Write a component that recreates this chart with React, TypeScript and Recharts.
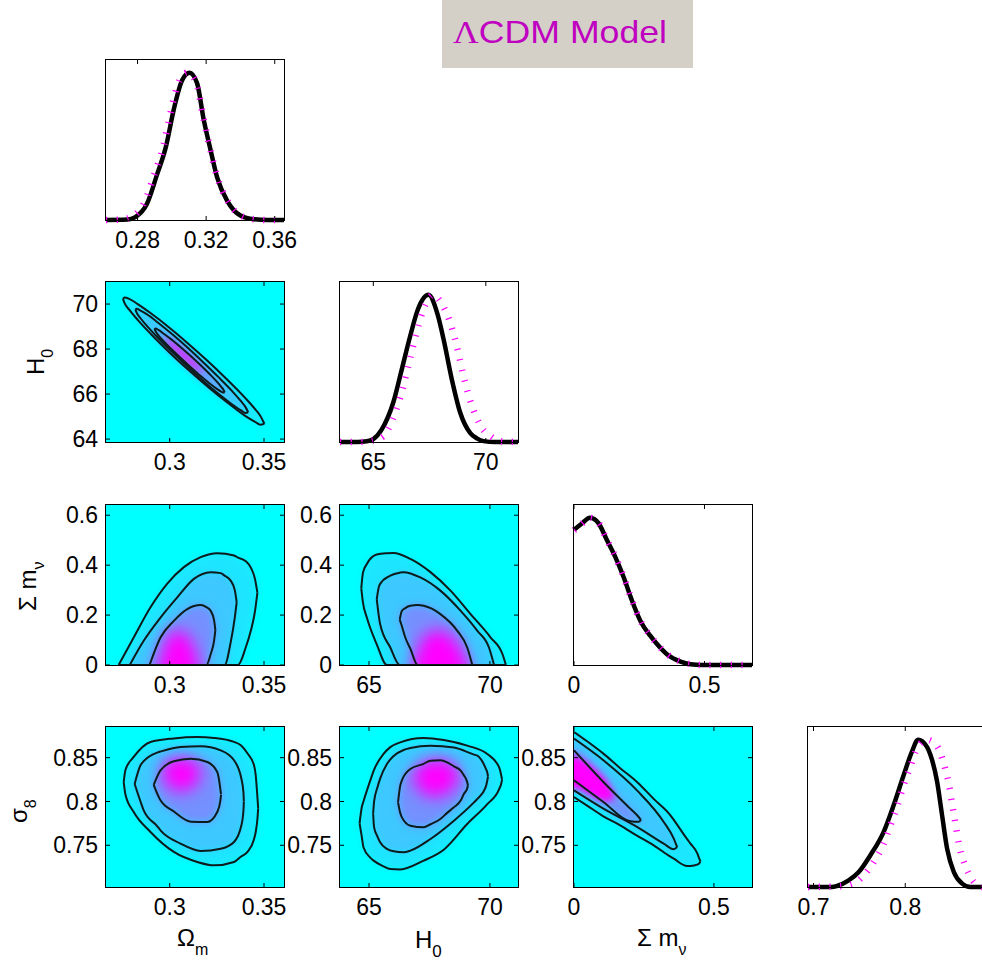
import React from 'react';
import { ComposedChart, Area, Line, XAxis, YAxis, ReferenceArea } from 'recharts';

// ---------- tick values ----------
const omTicks1D = [0.28, 0.32, 0.36];
const omTicks2D = [0.3, 0.35];
const h0Ticks1D = [65, 70];
const h0TicksX2D = [65, 70];
const h0TicksY2D = [64, 66, 68, 70];
const mnuTicksX = [0, 0.5];
const mnuTicksY = [0, 0.2, 0.4, 0.6];
const s8TicksY = [0.75, 0.8, 0.85];
const s8Ticks1D = [0.7, 0.8];
const cbTicks = [0, 0.2, 0.4, 0.6, 0.8];

// ---------- 1D marginal curves [x, density] ----------
const omBlack = [[0.2616,0],[0.274,0.003],[0.2787,0.02],[0.2855,0.11],[0.2914,0.31],[0.2966,0.5],[0.3011,0.75],[0.306,0.95],[0.3103,1.0],[0.3147,0.93],[0.3186,0.68],[0.3221,0.5],[0.3264,0.29],[0.3323,0.13],[0.34,0.03],[0.3478,0.005],[0.356,0],[0.3654,0]];
const omMag = [[0.2616,0],[0.27,0.003],[0.277,0.025],[0.284,0.12],[0.2898,0.31],[0.295,0.5],[0.2995,0.74],[0.3045,0.95],[0.309,1.0],[0.314,0.94],[0.3183,0.7],[0.322,0.5],[0.3265,0.29],[0.3325,0.13],[0.3402,0.03],[0.348,0.005],[0.356,0],[0.3654,0]];
const h0Black = [[63.52,0],[64.3,0],[64.71,0.005],[65.0,0.02],[65.37,0.084],[65.89,0.27],[66.26,0.49],[66.64,0.72],[66.98,0.9],[67.45,1.0],[67.85,0.87],[68.12,0.7],[68.49,0.425],[68.86,0.2],[69.31,0.06],[69.6,0.025],[69.9,0.006],[70.4,0],[71.43,0]];
const h0Mag = [[63.52,0],[64.5,0],[65.0,0.012],[65.45,0.04],[65.82,0.14],[66.19,0.3],[66.56,0.52],[66.93,0.75],[67.3,0.93],[67.67,1.0],[68.0,0.95],[68.42,0.81],[68.79,0.6],[69.04,0.43],[69.31,0.28],[69.56,0.176],[69.83,0.095],[70.2,0.04],[70.64,0.005],[71.43,0]];
const mnuBlack = [[0,0.918],[0.029,0.96],[0.0615,1.0],[0.094,0.963],[0.126,0.849],[0.158,0.735],[0.19,0.598],[0.222,0.438],[0.254,0.301],[0.292,0.199],[0.318,0.142],[0.356,0.073],[0.408,0.023],[0.446,0.005],[0.49,0],[0.682,0]];
const mnuMag = [[0,0.915],[0.029,0.958],[0.06,1.0],[0.094,0.965],[0.126,0.85],[0.158,0.737],[0.19,0.6],[0.222,0.44],[0.254,0.303],[0.292,0.2],[0.318,0.143],[0.356,0.075],[0.408,0.024],[0.446,0.006],[0.49,0],[0.682,0]];
const s8Black = [[0.694,0],[0.72,0],[0.7256,0.007],[0.7383,0.045],[0.7493,0.102],[0.762,0.216],[0.7765,0.375],[0.7874,0.557],[0.7983,0.761],[0.8073,0.92],[0.814,1.0],[0.8238,0.95],[0.8274,0.898],[0.8347,0.716],[0.8401,0.489],[0.8456,0.261],[0.8529,0.102],[0.862,0.023],[0.871,0],[0.888,0]];
const s8Mag = [[0.694,0],[0.7293,0.005],[0.7438,0.023],[0.7547,0.08],[0.7656,0.17],[0.7765,0.295],[0.7838,0.42],[0.791,0.545],[0.7983,0.693],[0.8056,0.818],[0.8129,0.943],[0.8238,1.0],[0.8347,0.955],[0.8419,0.84],[0.8474,0.705],[0.851,0.568],[0.8547,0.432],[0.8583,0.295],[0.8638,0.17],[0.8692,0.09],[0.8747,0.034],[0.884,0],[0.888,0]];

// ---------- 2D contours [x, lower, upper] ----------
// A: Omega_m vs H0
const A_outer = [[0.2752,70.23,70.23],[0.276,70.05,70.29],[0.2785,69.75,70.23],[0.283,69.3,70.0],[0.29,68.67,69.59],[0.3,67.84,68.94],[0.31,67.07,68.23],[0.32,66.34,67.48],[0.33,65.66,66.68],[0.34,65.03,65.83],[0.3455,64.75,65.31],[0.348,64.64,65.04],[0.3502,64.68,64.68]];
const A_mid = [[0.2818,69.75,69.75],[0.2825,69.61,69.79],[0.2845,69.37,69.71],[0.288,69.02,69.54],[0.294,68.48,69.16],[0.302,67.81,68.61],[0.31,67.18,68.02],[0.318,66.57,67.39],[0.326,66.0,66.74],[0.333,65.55,66.14],[0.338,65.26,65.66],[0.3402,65.16,65.42],[0.3416,65.19,65.19]];
const A_inner = [[0.2919,68.89,68.89],[0.2925,68.79,68.91],[0.294,68.61,68.85],[0.297,68.33,68.67],[0.301,67.99,68.42],[0.306,67.59,68.07],[0.311,67.2,67.7],[0.316,66.83,67.31],[0.321,66.48,66.9],[0.325,66.23,66.55],[0.3275,66.1,66.3],[0.3285,66.07,66.19],[0.3291,66.08,66.08]];
const A_core = [[0.2965,68.54,68.54],[0.299,68.25,68.45],[0.303,67.89,68.21],[0.307,67.58,67.92],[0.311,67.29,67.61],[0.315,67.03,67.27],[0.3185,66.88,66.88]];
// B: Omega_m vs sum m_nu
const B_outer = [[0.2729,0,0],[0.2809,0,0.11],[0.2898,0,0.231],[0.2986,0,0.325],[0.3075,0,0.392],[0.3164,0,0.432],[0.3252,0,0.448],[0.3341,0,0.439],[0.3362,0,0.43],[0.3403,0.07,0.416],[0.343,0.137,0.39],[0.3452,0.215,0.345],[0.3465,0.29,0.29]];
const B_mid = [[0.2788,0,0],[0.2862,0,0.097],[0.2951,0,0.19],[0.304,0,0.271],[0.3128,0,0.345],[0.3217,0,0.372],[0.327,0,0.368],[0.3291,0,0.358],[0.3323,0.09,0.338],[0.3345,0.19,0.3],[0.3355,0.252,0.252]];
const B_inner = [[0.2893,0,0],[0.2951,0,0.11],[0.3022,0,0.177],[0.3093,0,0.224],[0.3164,0,0.24],[0.3194,0,0.232],[0.3217,0.043,0.217],[0.3235,0.097,0.18],[0.3242,0.14,0.14]];
const B_core = [[0.294,0,0],[0.297,0,0.08],[0.301,0,0.13],[0.305,0,0.14],[0.309,0,0.12],[0.313,0,0.07],[0.3155,0,0]];
// C: H0 vs sum m_nu
const C_outer = [[64.68,0.307,0.307],[64.75,0.25,0.37],[64.91,0.19,0.405],[65.32,0.083,0.443],[65.74,0,0.448],[66.02,0,0.449],[66.71,0,0.425],[67.54,0,0.372],[68.37,0,0.298],[69.2,0,0.204],[70.03,0,0.11],[70.52,0,0.043],[70.66,0,0]];
const C_mid = [[65.32,0.264,0.264],[65.4,0.2,0.31],[65.46,0.164,0.325],[65.88,0.07,0.358],[66.27,0,0.37],[66.43,0,0.372],[67.12,0,0.351],[67.95,0,0.298],[68.79,0,0.217],[69.48,0,0.137],[69.96,0,0.07],[70.17,0,0]];
const C_inner = [[66.27,0.182,0.182],[66.36,0.155,0.217],[66.5,0.11,0.228],[66.71,0.065,0.237],[67.01,0,0.24],[67.26,0,0.237],[67.95,0,0.204],[68.65,0,0.137],[69.06,0,0.07],[69.27,0,0]];
const C_core = [[66.8,0,0],[67.2,0,0.1],[67.7,0,0.14],[68.2,0,0.13],[68.7,0,0.08],[69.1,0,0]];
// D: Omega_m vs sigma_8
const D_outer = [[0.2756,0.822,0.822],[0.2765,0.808,0.836],[0.2809,0.788,0.8508],[0.2898,0.7652,0.8679],[0.3022,0.7424,0.872],[0.3146,0.731,0.8735],[0.3235,0.7271,0.8725],[0.3341,0.731,0.868],[0.3377,0.737,0.8641],[0.3412,0.7424,0.855],[0.3447,0.757,0.8413],[0.3456,0.7652,0.83],[0.3465,0.78,0.805],[0.3469,0.792,0.792]];
const D_mid = [[0.2814,0.82,0.82],[0.2845,0.8,0.8413],[0.2862,0.7899,0.846],[0.2933,0.772,0.8558],[0.2951,0.7671,0.857],[0.3057,0.752,0.8622],[0.3164,0.7435,0.863],[0.327,0.746,0.8584],[0.3341,0.7538,0.847],[0.338,0.7728,0.826],[0.3391,0.79,0.81],[0.3393,0.8,0.8]];
const D_inner = [[0.2915,0.819,0.819],[0.2951,0.8013,0.8356],[0.3022,0.7885,0.8459],[0.3111,0.777,0.8489],[0.3199,0.7766,0.8451],[0.3252,0.788,0.8337],[0.3268,0.8,0.815],[0.3272,0.8075,0.808]];
const D_core = [[0.2955,0.834,0.834],[0.298,0.822,0.846],[0.303,0.812,0.85],[0.309,0.812,0.85],[0.314,0.82,0.845],[0.3165,0.832,0.832]];
// E: H0 vs sigma_8
const E_outer = [[64.61,0.775,0.775],[64.7,0.76,0.7934],[64.77,0.7477,0.8],[65.05,0.736,0.8238],[65.19,0.7325,0.835],[65.6,0.726,0.8542],[65.88,0.723,0.862],[66.29,0.7225,0.8675],[67.26,0.7325,0.8725],[68.09,0.745,0.8702],[69.06,0.7743,0.8637],[69.89,0.797,0.8542],[70.38,0.814,0.839],[70.48,0.822,0.828],[70.5,0.825,0.825]];
const E_mid = [[65.17,0.786,0.786],[65.21,0.7705,0.8],[65.35,0.76,0.8162],[65.46,0.7534,0.826],[65.74,0.746,0.8428],[66.02,0.7431,0.852],[66.43,0.742,0.8588],[66.71,0.7439,0.861],[67.54,0.7572,0.8637],[68.51,0.7781,0.8615],[69.34,0.799,0.8535],[69.48,0.803,0.8523],[69.82,0.816,0.838],[69.89,0.824,0.833],[69.92,0.8285,0.8285]];
const E_inner = [[66.2,0.799,0.799],[66.29,0.787,0.8181],[66.36,0.7819,0.824],[66.71,0.7724,0.8371],[67.26,0.7705,0.843],[67.54,0.774,0.8466],[67.95,0.78,0.847],[68.23,0.787,0.8447],[68.51,0.7934,0.84],[68.79,0.801,0.8352],[68.92,0.8086,0.83],[69.06,0.815,0.822],[69.09,0.8185,0.8185]];
const E_core = [[66.8,0.828,0.828],[67.1,0.812,0.842],[67.6,0.805,0.848],[68.1,0.807,0.848],[68.5,0.816,0.842],[68.75,0.83,0.83]];
// F: sum m_nu vs sigma_8
const F_outer = [[0,0.805,0.8793],[0.0455,0.7956,0.869],[0.105,0.783,0.8546],[0.165,0.7728,0.838],[0.225,0.761,0.8223],[0.2847,0.75,0.803],[0.3445,0.737,0.7842],[0.3565,0.7347,0.779],[0.4043,0.7264,0.757],[0.4163,0.7265,0.7519],[0.4402,0.728,0.741],[0.4462,0.729,0.736],[0.452,0.7315,0.7315]];
const F_mid = [[0,0.8127,0.8717],[0.105,0.7918,0.847],[0.225,0.771,0.8127],[0.3206,0.7519,0.7766],[0.3565,0.7455,0.7576],[0.3684,0.748,0.748]];
const F_inner = [[0,0.8242,0.8584],[0.105,0.7994,0.8223],[0.201,0.7774,0.7918],[0.231,0.7768,0.7823],[0.2392,0.779,0.779]];
const F_core = [[0,0.815,0.852],[0.04,0.81,0.846],[0.08,0.803,0.836],[0.12,0.8,0.822],[0.145,0.806,0.806]];

// ---------- layout / style ----------
const FONT = '"Liberation Sans", Arial, Helvetica, sans-serif';
const SERIF = '"Liberation Serif", "Times New Roman", serif';
const PW = 178, PH = 160, LW = 70, MT = 10, MR = 34, BH = 40;
const CW = LW + PW + MR, CH = MT + PH + BH;
const BOX_L = LW, BOX_R = LW + PW, BOX_T = MT, BOX_B = MT + PH;
const FILLS = ['#1ee6ff', '#3ec8ff', '#7490ff', '#ff00ff'];
const BLURS = ['b3', 'b3', 'b4', 'b8'];
const CONTOUR = '#0d1b1c';

const toR = (a: number[][]) => a.map(([x, lo, hi]) => ({ x, r: [lo, hi] }));
const toXY = (a: number[][]) => a.map(([x, y]) => ({ x, y }));
const fmt = (v: number) => String(v);

function makeXTick(show: boolean) {
  return (p: any) => {
    const x = p.x;
    return (
      <g>
        <line x1={x} x2={x} y1={BOX_B} y2={BOX_B - 4} stroke="#000" strokeWidth={1} />
        <line x1={x} x2={x} y1={BOX_T} y2={BOX_T + 4} stroke="#000" strokeWidth={1} />
        {show ? (
          <text x={x} y={BOX_B + 12} dy="0.71em" textAnchor="middle" fontSize={23} fontFamily={FONT} fill="#000">
            {fmt(p.payload.value)}
          </text>
        ) : null}
      </g>
    );
  };
}

function yTick(p: any) {
  const y = p.y;
  return (
    <g>
      <line x1={BOX_L} x2={BOX_L + 4} y1={y} y2={y} stroke="#000" strokeWidth={1} />
      <line x1={BOX_R} x2={BOX_R - 4} y1={y} y2={y} stroke="#000" strokeWidth={1} />
      <text x={BOX_L - 8} y={y} dy="0.355em" textAnchor="end" fontSize={23} fontFamily={FONT} fill="#000">
        {fmt(p.payload.value)}
      </text>
    </g>
  );
}

function contourLayers(key: string, levels: number[][][], padLo?: number, padX?: number, coreBlur?: string) {
  const els: any[] = [];
  levels.forEach((lv, i) => {
    let pts = lv.map(([x, lo, hi]) => [x, padLo !== undefined && lo === 0 ? padLo : lo, hi]);
    if (padX !== undefined) pts = [[padX, pts[0][1], pts[0][2]], ...pts];
    const cls = i === 3 && coreBlur ? coreBlur : BLURS[i];
    els.push(
      <Area key={key + 'f' + i} data={toR(pts)} dataKey="r" type="monotone" stroke="none" fill={FILLS[i]}
        fillOpacity={1} className={cls} isAnimationActive={false} dot={false} activeDot={false} />
    );
  });
  levels.slice(0, 3).forEach((lv, i) => {
    els.push(
      <Area key={key + 's' + i} data={toR(lv)} dataKey="r" type="monotone" stroke={CONTOUR} strokeWidth={2}
        fill="none" isAnimationActive={false} dot={false} activeDot={false} />
    );
  });
  return els;
}

function densityLines(black: number[][], mag: number[][]) {
  return [
    <Line key="k" data={toXY(black)} dataKey="y" type="monotone" stroke="#000" strokeWidth={4.5}
      dot={false} activeDot={false} isAnimationActive={false} />,
    <Line key="m" data={toXY(mag)} dataKey="y" type="monotone" stroke="#ff00ff" strokeWidth={6.5}
      strokeDasharray="1.2 9.5" dot={false} activeDot={false} isAnimationActive={false} />,
  ];
}

function Panel(props: any) {
  const { left, top, xDomain, yDomain, xTicks, yTicks, twoD, children } = props;
  return (
    <div style={{ position: 'absolute', left: left - LW, top: top - MT, width: CW, height: CH }}>
      {twoD ? (
        <div style={{ position: 'absolute', left: LW, top: MT, width: PW, height: PH, background: '#00ffff' }} />
      ) : null}
      <div style={{ position: 'absolute', left: 0, top: 0 }}>
        <ComposedChart width={CW} height={CH} margin={{ top: MT, right: MR, left: 0, bottom: 0 }}>
          <XAxis dataKey="x" type="number" domain={xDomain} ticks={xTicks} interval={0}
            allowDataOverflow={!!twoD} height={BH} tickLine={false} axisLine={false} tickSize={0}
            tickMargin={0} tick={makeXTick(true)} />
          <YAxis type="number" domain={yDomain} ticks={yTicks || []} interval={0} allowDataOverflow={!!twoD}
            width={LW} tickLine={false} axisLine={false} tickSize={0} tickMargin={0}
            tick={twoD ? yTick : false} />
          {children}
        </ComposedChart>
      </div>
      <div style={{ position: 'absolute', left: LW - 0.75, top: MT - 0.75, width: PW + 1.5, height: PH + 1.5,
        border: '1.5px solid #000', boxSizing: 'border-box', pointerEvents: 'none' }} />
    </div>
  );
}

const CB_W = 53;
function cbTick(p: any) {
  const y = p.y;
  return (
    <g>
      <line x1={0} x2={3} y1={y} y2={y} stroke="#000" />
      <line x1={CB_W} x2={CB_W - 3} y1={y} y2={y} stroke="#000" />
      <text x={CB_W + 7} y={y} dy="0.355em" textAnchor="start" fontSize={23} fontFamily={FONT} fill="#000">
        {fmt(p.payload.value)}
      </text>
    </g>
  );
}

const css = `
.b3 .recharts-area-area{filter:url(#fb3);}
.b4 .recharts-area-area{filter:url(#fb4);}
.b5 .recharts-area-area{filter:url(#fb5);}
.b8 .recharts-area-area{filter:url(#fb8);}
`;

const omX1D = [0.2616, 0.3654];
const omX2D = [0.2662, 0.3606];
const h0X1D = [63.52, 71.43];
const h0Y2D = [63.87, 70.98];
const h0X2D = [63.8, 71.16];
const mnuX1D = [0, 0.682];
const mnuY2D = [0, 0.641];
const mnuX2D = [0, 0.636];
const s8Y2D = [0.7024, 0.885];
const s8X1D = [0.694, 0.888];
const pdfY = [0, 1.087];

const colL = [106, 340, 574, 808];
const rowT = [60, 282, 505, 727];

export default function App() {
  return (
    <div style={{ position: 'absolute', left: 0, top: 0, width: 982, height: 967, overflow: 'hidden', background: '#fff', fontFamily: FONT }}>
      <style>{css}</style>
      <svg width={0} height={0} style={{ position: 'absolute' }}>
        <defs>
          <filter id="fb3" filterUnits="userSpaceOnUse" x={-300} y={-300} width={900} height={900}>
            <feGaussianBlur stdDeviation={3} />
          </filter>
          <filter id="fb4" filterUnits="userSpaceOnUse" x={-300} y={-300} width={900} height={900}>
            <feGaussianBlur stdDeviation={4.5} />
          </filter>
          <filter id="fb5" filterUnits="userSpaceOnUse" x={-300} y={-300} width={900} height={900}>
            <feGaussianBlur stdDeviation={3.5} />
          </filter>
          <filter id="fb8" filterUnits="userSpaceOnUse" x={-300} y={-300} width={900} height={900}>
            <feGaussianBlur stdDeviation={8} />
          </filter>
          <linearGradient id="coolGrad" x1="0" y1="1" x2="0" y2="0">
            <stop offset="0" stopColor="#00ffff" />
            <stop offset="1" stopColor="#fb04ff" />
          </linearGradient>
        </defs>
      </svg>

      {/* title */}
      <div style={{ position: 'absolute', left: 442, top: 0, width: 251, height: 68, background: '#d4d0c8' }}>
        <svg width={251} height={68}>
          <text x={11} y={43} fontSize={32} fill="#c000c0" fontFamily={FONT} textLength={214} lengthAdjust="spacingAndGlyphs">
            <tspan fontFamily={SERIF}>Λ</tspan>CDM Model
          </text>
        </svg>
      </div>

      {/* row 0 */}
      <Panel left={colL[0]} top={rowT[0]} xDomain={omX1D} yDomain={pdfY} xTicks={omTicks1D}>
        {densityLines(omBlack, omMag)}
      </Panel>

      {/* row 1 */}
      <Panel left={colL[0]} top={rowT[1]} xDomain={omX2D} yDomain={h0Y2D} xTicks={omTicks2D} yTicks={h0TicksY2D} twoD>
        {contourLayers('A', [A_outer, A_mid, A_inner, A_core], undefined, undefined, 'b5')}
      </Panel>
      <Panel left={colL[1]} top={rowT[1]} xDomain={h0X1D} yDomain={pdfY} xTicks={h0Ticks1D}>
        {densityLines(h0Black, h0Mag)}
      </Panel>

      {/* row 2 */}
      <Panel left={colL[0]} top={rowT[2]} xDomain={omX2D} yDomain={mnuY2D} xTicks={omTicks2D} yTicks={mnuTicksY} twoD>
        {contourLayers('B', [B_outer, B_mid, B_inner, B_core], -0.08)}
      </Panel>
      <Panel left={colL[1]} top={rowT[2]} xDomain={h0X2D} yDomain={mnuY2D} xTicks={h0TicksX2D} yTicks={mnuTicksY} twoD>
        {contourLayers('C', [C_outer, C_mid, C_inner, C_core], -0.08)}
      </Panel>
      <Panel left={colL[2]} top={rowT[2]} xDomain={mnuX1D} yDomain={pdfY} xTicks={mnuTicksX}>
        {densityLines(mnuBlack, mnuMag)}
      </Panel>

      {/* row 3 */}
      <Panel left={colL[0]} top={rowT[3]} xDomain={omX2D} yDomain={s8Y2D} xTicks={omTicks2D} yTicks={s8TicksY} twoD>
        {contourLayers('D', [D_outer, D_mid, D_inner, D_core])}
      </Panel>
      <Panel left={colL[1]} top={rowT[3]} xDomain={h0X2D} yDomain={s8Y2D} xTicks={h0TicksX2D} yTicks={s8TicksY} twoD>
        {contourLayers('E', [E_outer, E_mid, E_inner, E_core])}
      </Panel>
      <Panel left={colL[2]} top={rowT[3]} xDomain={mnuX2D} yDomain={s8Y2D} xTicks={mnuTicksX} yTicks={s8TicksY} twoD>
        {contourLayers('F', [F_outer, F_mid, F_inner, F_core], undefined, -0.05, 'b5')}
      </Panel>
      <Panel left={colL[3]} top={rowT[3]} xDomain={s8X1D} yDomain={pdfY} xTicks={s8Ticks1D}>
        {densityLines(s8Black, s8Mag)}
      </Panel>

      {/* colour bar */}
      <div style={{ position: 'absolute', left: 880, top: 0 }}>
        <ComposedChart width={102} height={230} margin={{ top: 9, right: 0, left: 0, bottom: 17 }}>
          <XAxis type="number" dataKey="x" domain={[0, 1]} hide />
          <YAxis orientation="right" type="number" domain={[0, 0.985]} ticks={cbTicks} interval={0} width={49}
            tickLine={false} axisLine={false} tickSize={0} tickMargin={0} tick={cbTick} />
          <ReferenceArea x1={0} x2={1} y1={0} y2={0.985} fill="url(#coolGrad)" fillOpacity={1} stroke="#000" strokeWidth={1.5} />
        </ComposedChart>
      </div>

      {/* axis labels */}
      <svg width={982} height={967} style={{ position: 'absolute', left: 0, top: 0, pointerEvents: 'none' }}>
        <g fontFamily={FONT} fontSize={24} fill="#000">
          <text x={177} y={946}>Ω<tspan dy={9} fontSize={16}>m</tspan></text>
          <text x={415} y={948}>H<tspan dy={9} fontSize={17}>0</tspan></text>
          <text x={637} y={946}>Σ m<tspan dy={9} fontSize={16}>ν</tspan></text>
          <text transform="translate(44,375) rotate(-90)">H<tspan dy={9} fontSize={16}>0</tspan></text>
          <text transform="translate(36,611) rotate(-90)">Σ m<tspan dy={8} fontSize={16}>ν</tspan></text>
          <text transform="translate(27,823) rotate(-90)">σ<tspan dy={9} fontSize={16}>8</tspan></text>
        </g>
      </svg>
    </div>
  );
}
